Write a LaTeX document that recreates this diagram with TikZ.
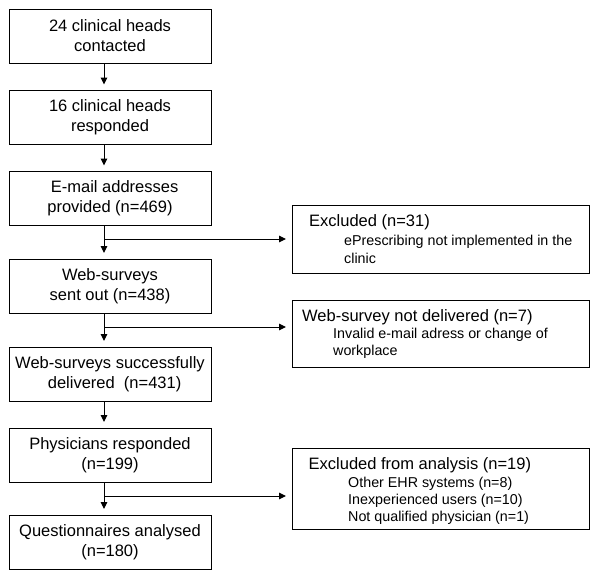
\documentclass[tikz,border=0pt]{standalone}
\usepackage{fontspec}
\setmainfont{Liberation Sans}
\usetikzlibrary{arrows.meta}
\newcommand{\bigtxt}{\fontsize{16.5}{20}\selectfont}
\newcommand{\smalltxt}{\fontsize{14.3}{17.5}\selectfont}
\begin{document}
\begin{tikzpicture}[x=1pt,y=-1pt,
  flowbox/.style={draw, line width=1pt, rectangle, inner sep=0pt, minimum width=202pt, minimum height=54pt, align=center, font=\bigtxt},
  sidebox/.style={draw, line width=1pt, rectangle, inner sep=0pt, minimum width=297pt},
  hdr/.style={anchor=base west, inner sep=0pt, font=\bigtxt},
  sub/.style={anchor=base west, inner sep=0pt, font=\smalltxt},
  arr/.style={line width=1pt, -{Triangle[length=7pt,width=6.5pt]}, shorten >=5.5pt},
  ln/.style={line width=1pt}]
\useasboundingbox (0,0) rectangle (600,579);
\fill[white] (0,0) rectangle (600,579);
% left column
\node[flowbox] (b1) at (110,36) {24 clinical heads\\contacted};
\node[flowbox] (b2) at (110,117.5) {16 clinical heads\\responded};
\node[flowbox] (b3) at (110,198.5) {\ \ E-mail addresses\\provided (n=469)};
\node[flowbox] (b4) at (110,286) {Web-surveys\\sent out (n=438)};
\node[flowbox] (b5) at (110,374) {Web-surveys successfully\\\ \ delivered\ \ (n=431)};
\node[flowbox] (b6) at (110,455) {Physicians responded\\(n=199)};
\node[flowbox] (b7) at (110,542) {Questionnaires analysed\\(n=180)};
% right column
\node[sidebox, minimum height=68pt] (r1) at (440.5,239) {};
\node[hdr] (r1h) at (309,226) {Excluded (n=31)};
\node[sub] (r1a) at (344,245) {ePrescribing not implemented in the};
\node[sub] (r1b) at (344,263) {clinic};
\node[sidebox, minimum height=67pt] (r2) at (440.5,333.5) {};
\node[hdr] (r2h) at (302,321) {Web-survey not delivered (n=7)};
\node[sub] (r2a) at (333,338) {Invalid e-mail adress or change of};
\node[sub] (r2b) at (333,355) {workplace};
\node[sidebox, minimum height=81pt] (r3) at (440.5,488.5) {};
\node[hdr] (r3h) at (308.5,469) {Excluded from analysis (n=19)};
\node[sub] (r3a) at (348,487) {Other EHR systems (n=8)};
\node[sub] (r3b) at (348,504) {Inexperienced users (n=10)};
\node[sub] (r3c) at (348,521) {Not qualified physician (n=1)};
% branch points
\coordinate (j1) at (104,239);
\coordinate (j2) at (104,327);
\coordinate (j3) at (104,496);
% vertical arrows
\draw[arr] (b1.south -| j1) -- (b2.north -| j1);
\draw[arr] (b2.south -| j1) -- (b3.north -| j1);
\draw[arr] (b3.south -| j1) -- (b4.north -| j1);
\draw[arr] (b4.south -| j1) -- (b5.north -| j1);
\draw[arr] (b5.south -| j1) -- (b6.north -| j1);
\draw[arr] (b6.south -| j1) -- (b7.north -| j1);
% side arrows
\draw[arr] (j1) -- (r1.west |- j1);
\draw[arr] (j2) -- (r2.west |- j2);
\draw[arr] (j3) -- (r3.west |- j3);
\end{tikzpicture}
\end{document}
